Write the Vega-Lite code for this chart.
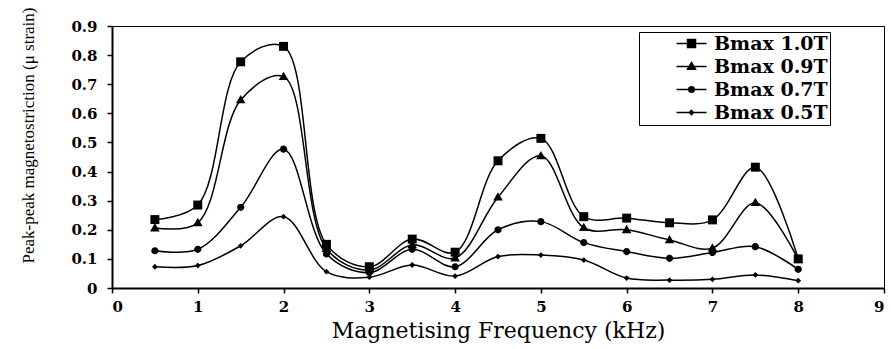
{
  "$schema": "https://vega.github.io/schema/vega-lite/v6.json",
  "autosize": "none",
  "width": 772,
  "height": 262,
  "padding": {"left": 112, "top": 26, "right": 7, "bottom": 61},
  "background": "white",
  "config": {
    "view": {"stroke": "black", "strokeWidth": 1},
    "axis": {"grid": false, "domainColor": "black", "domainWidth": 2, "tickColor": "black", "tickWidth": 1.5, "tickSize": 5,
      "labelFont": "DejaVu Serif", "labelFontWeight": "bold", "labelFontSize": 15, "labelColor": "black",
      "titleFont": "DejaVu Serif", "titleFontWeight": "normal", "titleColor": "black"}
  },
  "data": {"values": [
    {"f": 0.5, "s": "Bmax 1.0T", "v": 0.235}, {"f": 1.0, "s": "Bmax 1.0T", "v": 0.285}, {"f": 1.5, "s": "Bmax 1.0T", "v": 0.777}, {"f": 2.0, "s": "Bmax 1.0T", "v": 0.83},
    {"f": 2.5, "s": "Bmax 1.0T", "v": 0.15}, {"f": 3.0, "s": "Bmax 1.0T", "v": 0.073}, {"f": 3.5, "s": "Bmax 1.0T", "v": 0.168}, {"f": 4.0, "s": "Bmax 1.0T", "v": 0.123},
    {"f": 4.5, "s": "Bmax 1.0T", "v": 0.437}, {"f": 5.0, "s": "Bmax 1.0T", "v": 0.514}, {"f": 5.5, "s": "Bmax 1.0T", "v": 0.245}, {"f": 6.0, "s": "Bmax 1.0T", "v": 0.24},
    {"f": 6.5, "s": "Bmax 1.0T", "v": 0.224}, {"f": 7.0, "s": "Bmax 1.0T", "v": 0.234}, {"f": 7.5, "s": "Bmax 1.0T", "v": 0.415}, {"f": 8.0, "s": "Bmax 1.0T", "v": 0.1},
    {"f": 0.5, "s": "Bmax 0.9T", "v": 0.206}, {"f": 1.0, "s": "Bmax 0.9T", "v": 0.224}, {"f": 1.5, "s": "Bmax 0.9T", "v": 0.646}, {"f": 2.0, "s": "Bmax 0.9T", "v": 0.726},
    {"f": 2.5, "s": "Bmax 0.9T", "v": 0.135}, {"f": 3.0, "s": "Bmax 0.9T", "v": 0.062}, {"f": 3.5, "s": "Bmax 0.9T", "v": 0.148}, {"f": 4.0, "s": "Bmax 0.9T", "v": 0.103},
    {"f": 4.5, "s": "Bmax 0.9T", "v": 0.312}, {"f": 5.0, "s": "Bmax 0.9T", "v": 0.454}, {"f": 5.5, "s": "Bmax 0.9T", "v": 0.207}, {"f": 6.0, "s": "Bmax 0.9T", "v": 0.2},
    {"f": 6.5, "s": "Bmax 0.9T", "v": 0.165}, {"f": 7.0, "s": "Bmax 0.9T", "v": 0.137}, {"f": 7.5, "s": "Bmax 0.9T", "v": 0.293}, {"f": 8.0, "s": "Bmax 0.9T", "v": 0.098},
    {"f": 0.5, "s": "Bmax 0.7T", "v": 0.128}, {"f": 1.0, "s": "Bmax 0.7T", "v": 0.133}, {"f": 1.5, "s": "Bmax 0.7T", "v": 0.277}, {"f": 2.0, "s": "Bmax 0.7T", "v": 0.477},
    {"f": 2.5, "s": "Bmax 0.7T", "v": 0.117}, {"f": 3.0, "s": "Bmax 0.7T", "v": 0.053}, {"f": 3.5, "s": "Bmax 0.7T", "v": 0.133}, {"f": 4.0, "s": "Bmax 0.7T", "v": 0.073},
    {"f": 4.5, "s": "Bmax 0.7T", "v": 0.2}, {"f": 5.0, "s": "Bmax 0.7T", "v": 0.228}, {"f": 5.5, "s": "Bmax 0.7T", "v": 0.156}, {"f": 6.0, "s": "Bmax 0.7T", "v": 0.125},
    {"f": 6.5, "s": "Bmax 0.7T", "v": 0.102}, {"f": 7.0, "s": "Bmax 0.7T", "v": 0.122}, {"f": 7.5, "s": "Bmax 0.7T", "v": 0.142}, {"f": 8.0, "s": "Bmax 0.7T", "v": 0.064},
    {"f": 0.5, "s": "Bmax 0.5T", "v": 0.073}, {"f": 1.0, "s": "Bmax 0.5T", "v": 0.077}, {"f": 1.5, "s": "Bmax 0.5T", "v": 0.145}, {"f": 2.0, "s": "Bmax 0.5T", "v": 0.245},
    {"f": 2.5, "s": "Bmax 0.5T", "v": 0.056}, {"f": 3.0, "s": "Bmax 0.5T", "v": 0.037}, {"f": 3.5, "s": "Bmax 0.5T", "v": 0.079}, {"f": 4.0, "s": "Bmax 0.5T", "v": 0.041},
    {"f": 4.5, "s": "Bmax 0.5T", "v": 0.108}, {"f": 5.0, "s": "Bmax 0.5T", "v": 0.113}, {"f": 5.5, "s": "Bmax 0.5T", "v": 0.096}, {"f": 6.0, "s": "Bmax 0.5T", "v": 0.034},
    {"f": 6.5, "s": "Bmax 0.5T", "v": 0.027}, {"f": 7.0, "s": "Bmax 0.5T", "v": 0.03}, {"f": 7.5, "s": "Bmax 0.5T", "v": 0.045}, {"f": 8.0, "s": "Bmax 0.5T", "v": 0.025}
  ]},
  "encoding": {
    "x": {"field": "f", "type": "quantitative", "scale": {"domain": [0, 9], "nice": false},
      "axis": {"values": [0,1,2,3,4,5,6,7,8,9], "title": "Magnetising Frequency (kHz)", "titleFontSize": 22, "titlePadding": 6, "labelPadding": 6}},
    "y": {"field": "v", "type": "quantitative", "scale": {"domain": [0, 0.9], "nice": false},
      "axis": {"values": [0,0.1,0.2,0.3,0.4,0.5,0.6,0.7,0.8,0.9], "labelExpr": "datum.value == 0 ? '0' : format(datum.value, '.1f')", "labelPadding": 10,
        "title": "Peak-peak magnetostriction (μ strain)", "titleFont": "Liberation Serif", "titleFontSize": 17, "titleX": -92, "titleY": 109, "titleAlign": "center", "titleBaseline": "top", "titleAngle": -90}}
  },
  "layer": [
    {"mark": {"type": "line", "color": "black", "strokeWidth": 1.5, "interpolate": "catmull-rom"},
     "encoding": {"detail": {"field": "s"}}},
    {"mark": {"type": "point", "filled": true, "color": "black", "opacity": 1, "size": 256, "strokeWidth": 0},
     "encoding": {"shape": {"field": "s", "type": "nominal",
        "scale": {"domain": ["Bmax 1.0T", "Bmax 0.9T", "Bmax 0.7T", "Bmax 0.5T"],
          "range": ["M-0.56,-0.56H0.56V0.56H-0.56Z",
                    "M0,-0.62L0.6,0.42H-0.6Z",
                    "M-0.45,0A0.45,0.45,0,1,0,0.45,0A0.45,0.45,0,1,0,-0.45,0Z",
                    "M0,-0.36L0.36,0L0,0.36L-0.36,0Z"]},
        "legend": null}}},
    {"transform": [{"filter": "datum.v < 0"}],
     "mark": {"type": "point", "filled": false, "color": "black", "strokeWidth": 1.5, "opacity": 1, "size": 256},
     "encoding": {"shape": {"field": "s", "type": "nominal",
        "scale": {"domain": ["Bmax 1.0T\u00a0\u00a0\u00a0\u00a0\u00a0\u00a0", "Bmax 0.9T\u00a0\u00a0\u00a0\u00a0\u00a0\u00a0", "Bmax 0.7T\u00a0\u00a0\u00a0\u00a0\u00a0\u00a0", "Bmax 0.5T\u00a0\u00a0\u00a0\u00a0\u00a0\u00a0"],
          "range": ["M-1.875,0H1.875M-0.5,-0.5H0.5V0.5H-0.5ZM-0.45,-0.3H0.45M-0.45,-0.15H0.45M-0.45,0.15H0.45M-0.45,0.3H0.45",
                    "M-1.875,0H1.875M0,-0.5L0.5,0.35H-0.5ZM-0.118,-0.3H0.118M-0.206,-0.15H0.206M-0.382,0.15H0.382M-0.47,0.3H0.47",
                    "M-1.875,0H1.875M-0.35,0A0.35,0.35,0,1,0,0.35,0A0.35,0.35,0,1,0,-0.35,0ZM-0.2,0A0.2,0.2,0,1,0,0.2,0A0.2,0.2,0,1,0,-0.2,0ZM-0.05,0A0.05,0.05,0,1,0,0.05,0A0.05,0.05,0,1,0,-0.05,0Z",
                    "M-1.875,0H1.875M0,-0.26L0.26,0L0,0.26L-0.26,0ZM0,-0.1L0.1,0L0,0.1L-0.1,0Z"]},
        "legend": {"title": null, "orient": "none", "legendX": 527, "legendY": 6, "padding": 2, "symbolOffset": 41,
          "strokeColor": "black", "symbolSize": 256, "symbolStrokeWidth": 1.5, "symbolStrokeColor": "black",
          "labelFont": "DejaVu Serif", "labelFontWeight": "bold", "labelFontSize": 19, "labelColor": "black", "labelOffset": 13, "rowPadding": 3, "labelLimit": 300}}}}
  ],
  "resolve": {"scale": {"shape": "independent"}}
}
